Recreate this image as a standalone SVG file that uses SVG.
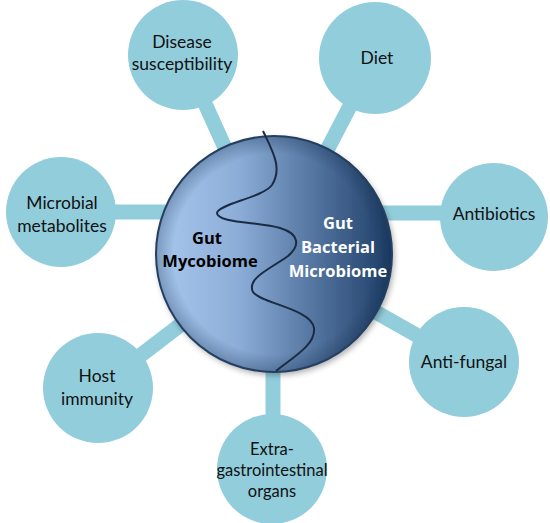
<svg xmlns="http://www.w3.org/2000/svg" width="550" height="523" viewBox="0 0 550 523">
<defs>
<linearGradient id="gMain" x1="0" y1="0" x2="1" y2="0">
<stop offset="0" stop-color="#A9C8EE"/>
<stop offset="0.35" stop-color="#8CADD7"/>
<stop offset="0.65" stop-color="#5678A3"/>
<stop offset="1" stop-color="#1D3D66"/>
</linearGradient>
<radialGradient id="gShade" cx="0.5" cy="0.5" r="0.5">
<stop offset="0.85" stop-color="#0F2A4A" stop-opacity="0"/>
<stop offset="1" stop-color="#0F2A4A" stop-opacity="0.3"/>
</radialGradient>
<filter id="shadow" x="-20%" y="-20%" width="140%" height="140%">
<feGaussianBlur in="SourceAlpha" stdDeviation="3"/>
<feOffset dx="2" dy="3"/>
<feComponentTransfer><feFuncA type="linear" slope="0.35"/></feComponentTransfer>
<feMerge><feMergeNode/><feMergeNode in="SourceGraphic"/></feMerge>
</filter>
</defs>
<style>
.conn{stroke:#92CDDC;stroke-width:15;fill:none}
.node{fill:#92CDDC}
.t{font-family:Lato,"Open Sans","Liberation Sans",sans-serif;font-size:17.5px;fill:#111;text-anchor:middle}
.s{font-size:16.5px}
.c{font-family:"Open Sans",Lato,"Liberation Sans",sans-serif;font-size:16.5px;font-weight:bold;text-anchor:middle}
</style>
<g id="connectors">
<line class="conn" x1="183" y1="55" x2="273" y2="254"/>
<line class="conn" x1="375" y1="58" x2="273" y2="254"/>
<line class="conn" x1="494" y1="213" x2="273" y2="213"/>
<line class="conn" x1="464" y1="362" x2="273" y2="254"/>
<line class="conn" x1="273" y1="470" x2="273" y2="254"/>
<line class="conn" x1="98" y1="388" x2="273" y2="254"/>
<line class="conn" x1="61" y1="212" x2="273" y2="212"/>
</g>
<g id="n-disease">
<circle class="node" cx="183" cy="55" r="55"/>
<text class="t" x="182" y="48">Disease</text>
<text class="t" x="182" y="70">susceptibility</text>
</g>
<g id="n-diet">
<circle class="node" cx="375" cy="58" r="56"/>
<text class="t" x="377" y="64">Diet</text>
</g>
<g id="n-antibiotics">
<circle class="node" cx="494" cy="217" r="54"/>
<text class="t" x="494" y="220">Antibiotics</text>
</g>
<g id="n-antifungal">
<circle class="node" cx="464" cy="362" r="55"/>
<text class="t" x="464" y="368">Anti-fungal</text>
</g>
<g id="n-extra">
<circle class="node" cx="272" cy="469" r="55"/>
<text class="t s" x="272" y="455">Extra-</text>
<text class="t s" x="272" y="476">gastrointestinal</text>
<text class="t s" x="272" y="497">organs</text>
</g>
<g id="n-host">
<circle class="node" cx="98" cy="388" r="55"/>
<text class="t" x="97" y="382">Host</text>
<text class="t" x="97" y="405">immunity</text>
</g>
<g id="n-metabolites">
<circle class="node" cx="61" cy="212" r="55"/>
<text class="t" x="62" y="209">Microbial</text>
<text class="t" x="62" y="232">metabolites</text>
</g>
<g id="n-center">
<circle cx="274" cy="254" r="118" fill="url(#gMain)" filter="url(#shadow)"/>
<circle cx="274" cy="254" r="118" fill="url(#gShade)" stroke="#243F62" stroke-width="2"/>
<path d="M263,131 C272,150 283,168 272,185 C262,198 218,204 217,213 C217,223 260,222 280,228 C300,234 300,246 288,256 C272,268 246,278 253,292 C260,303 312,309 314,328 C316,345 292,358 276,371" fill="none" stroke="#1A2B42" stroke-width="2"/>
<text class="c" x="207" y="244" fill="#000">Gut</text>
<text class="c" x="210" y="267" fill="#000">Mycobiome</text>
<text class="c" x="338" y="229" fill="#fff">Gut</text>
<text class="c" x="338" y="253" fill="#fff">Bacterial</text>
<text class="c" x="338" y="277" fill="#fff">Microbiome</text>
</g>
</svg>
